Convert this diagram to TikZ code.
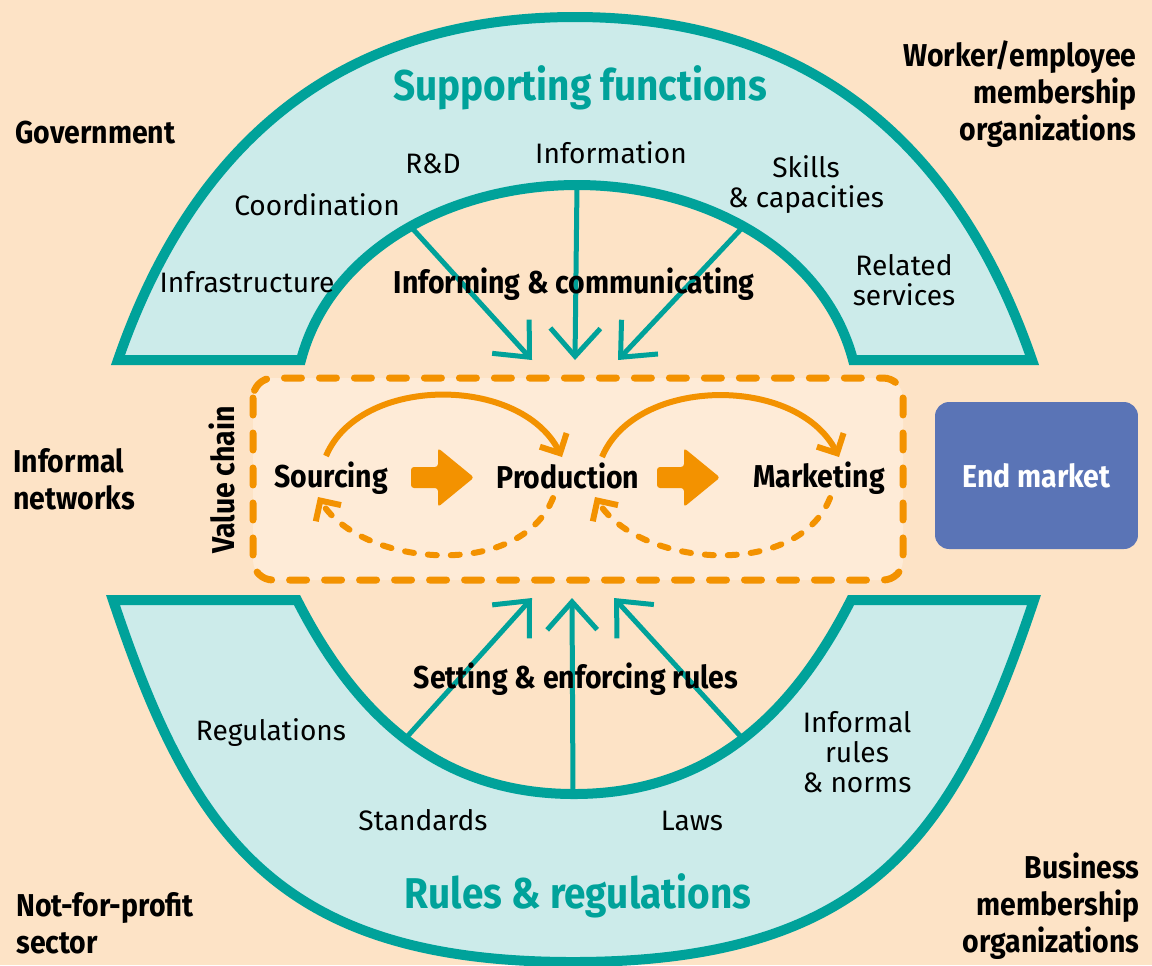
\documentclass[tikz,border=0pt]{standalone}
\usepackage{fontspec}
\setmainfont{Fira Sans}[BoldFeatures={FakeStretch=0.9}]
\usetikzlibrary{positioning,arrows.meta}

\definecolor{bgpeach}{HTML}{FDE3C6}
\definecolor{chainfill}{HTML}{FEEBD7}
\definecolor{archline}{HTML}{00A29A}
\definecolor{archfill}{HTML}{CCEBEA}
\definecolor{chainorange}{HTML}{F39200}
\definecolor{marketblue}{HTML}{5A74B6}

\begin{document}
\begin{tikzpicture}[x=0.02cm, y=-0.02cm,
    arch/.style={fill=archfill, draw=archline, line width=0.2cm},
    link/.style={draw=archline, line width=0.1cm, -{Straight Barb[length=0.56cm, width=1cm]}},
    handover/.style={draw=chainorange, line width=0.12cm, -{Straight Barb[length=0.3cm, width=0.6cm]}},
    feedback/.style={handover, dash pattern=on 0.18cm off 0.28cm, line cap=round},
    fat/.style={fill=chainorange, rounded corners=0.06cm},
    item/.style={font=\fontsize{16}{17}\selectfont, align=center, inner sep=0pt, anchor=base},
    actor/.style={font=\fontsize{18}{21}\selectfont\bfseries, inner sep=0pt, anchor=base},
    stage/.style={actor},
    title/.style={font=\fontsize{24.5}{28}\selectfont\bfseries, text=archline, inner sep=0pt, anchor=base},
    market/.style={fill=marketblue, text=white, rounded corners=0.28cm, minimum width=4.06cm,
        minimum height=2.94cm, inner sep=0pt, font=\fontsize{18}{21}\selectfont\bfseries},
    ]
    \fill[bgpeach] (0,0) rectangle (1152,965);
    \useasboundingbox (0,0) rectangle (1152,965);

    % supporting functions
    \draw[arch] (118,360) .. controls (187,160) and (325,17) .. (575,17)
        .. controls (825,17) and (963,160) .. (1032,360) -- (853,360)
        .. controls (824,250) and (704,185) .. (577,185)
        .. controls (450,185) and (330,250) .. (301,360) -- cycle;
    % rules and regulations
    \draw[arch] (113,600) .. controls (190,830) and (273,962) .. (573,962)
        .. controls (874,962) and (957,830) .. (1034,600) -- (851,600)
        .. controls (790,720) and (705,794) .. (574,794)
        .. controls (443,794) and (358,720) .. (297,600) -- cycle;

    \draw[chainorange, fill=chainfill, line width=0.14cm, dash pattern=on 0.34cm off 0.36cm,
        line cap=round, rounded corners=0.4cm] (253,378) rectangle (903,580);

    \coordinate (supL) at (412,228);
    \coordinate (supC) at (577,185);
    \coordinate (supR) at (742,228);
    \coordinate (topL) at (532,360);
    \coordinate (topC) at (575,360);
    \coordinate (topR) at (618,360);
    \coordinate (rulL) at (405,739);
    \coordinate (rulC) at (573,794);
    \coordinate (rulR) at (743,739);
    \coordinate (botL) at (532,598);
    \coordinate (botC) at (572,598);
    \coordinate (botR) at (614,598);

    \draw[link] (supL) -- (topL);
    \draw[link] (supC) -- (topC);
    \draw[link] (supR) -- (topR);
    \draw[link] (rulL) -- (botL);
    \draw[link] (rulC) -- (botC);
    \draw[link] (rulR) -- (botR);

    \node[title] (supp) at (580,100) {Supporting functions};
    \node[item] (rd) at (433,173) {R\&D};
    \node[item] (info) at (611,163) {Information};
    \node[item] (skills) at (806,207) {Skills\\\& capacities};
    \node[item] (coord) at (317,215) {Coordination};
    \node[item] (infra) at (247,292) {Infrastructure};
    \node[item] (related) at (904,305) {Related\\services};
    \node[actor] (inform) at (574,293) {Informing \& communicating};

    \node[actor, anchor=base west] (gov) at (15,143) {Government};
    \node[actor, anchor=base east, align=right] (worker) at (1137,140) {Worker/employee\\membership\\organizations};
    \node[actor, anchor=base west, align=left] (infnet) at (13,509) {Informal\\networks};
    \node[actor, anchor=base west, align=left] (nfp) at (16,953) {Not-for-profit\\sector};
    \node[actor, anchor=base east, align=right] (business) at (1140,952) {Business\\membership\\organizations};

    % value chain
    \node[actor, rotate=90] (vc) at (234,480) {Value chain};
    \node[stage] (src) at (331,487) {Sourcing};
    \node[stage] (prod) at (568,488) {Production};
    \node[stage] (mark) at (819,487) {Marketing};
    \node[market] (end) at (1036.5,475.5) {End market};

    \fill[fat] (411,467) -- (438,467) -- (438,448) -- (474,477.5) -- (438,507) -- (438,488) -- (411,488) -- cycle;
    \fill[fat] (657,467) -- (684,467) -- (684,448) -- (720,477.5) -- (684,507) -- (684,488) -- (657,488) -- cycle;

    \coordinate (srcT) at (326,456);
    \coordinate (prodTL) at (562,457);
    \coordinate (prodTR) at (602,457);
    \coordinate (markT) at (839,457);
    \coordinate (srcB) at (318,497);
    \coordinate (prodBR) at (553,498);
    \coordinate (prodBL) at (595,497);
    \coordinate (markB) at (830,498);

    \draw[handover] (srcT) .. controls +(34,-81) and +(-42,-82) .. (prodTL);
    \draw[handover] (prodTR) .. controls +(34,-81) and +(-42,-82) .. (markT);
    \draw[feedback] (prodBR) .. controls +(-33,82) and +(45,70) .. (srcB);
    \draw[feedback] (markB) .. controls +(-33,82) and +(45,70) .. (prodBL);

    \node[actor] (setting) at (576,688) {Setting \& enforcing rules};
    \node[item] (reg) at (271,740) {Regulations};
    \node[item] (std) at (423,830) {Standards};
    \node[item] (laws) at (692,830) {Laws};
    \node[item] (informal) at (857,792) {Informal\\rules\\\& norms};
    \node[title] (rules) at (578,908) {Rules \& regulations};
\end{tikzpicture}
\end{document}
